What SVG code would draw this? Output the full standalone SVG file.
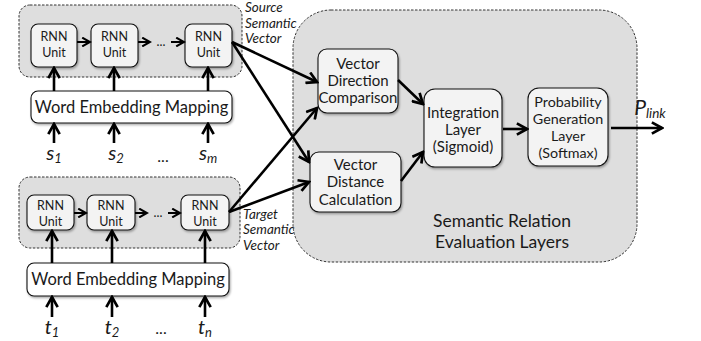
<svg xmlns="http://www.w3.org/2000/svg" width="701" height="341" viewBox="0 0 701 341">
<defs>
<marker id="ah" viewBox="0 0 10 10" refX="8.5" refY="5" markerWidth="5.2" markerHeight="5.2" orient="auto" markerUnits="strokeWidth">
<path d="M1,0.8 L8.5,5 L1,9.2" fill="none" stroke="#000" stroke-width="2"/>
</marker>
<filter id="sh" x="-10%" y="-10%" width="125%" height="130%">
<feDropShadow dx="1" dy="1.5" stdDeviation="1" flood-color="#000" flood-opacity="0.35"/>
</filter>
</defs>
<style>
.panel{fill:#dedede;stroke:#333;stroke-width:1;stroke-dasharray:2.5,1.5}
.box{fill:#f3f3f3;stroke:#111;stroke-width:1.1;filter:url(#sh)}
.wbox{fill:#fff;stroke:#111;stroke-width:1.1;filter:url(#sh)}
text{font-family:Lato,"Liberation Sans",sans-serif;fill:#1a1a1a;text-anchor:middle}
.rnn{font-size:12.5px}
.n{font-size:15px}
.p{font-size:14.3px}
.wem{font-size:16.5px}
.lab{font-size:13.5px;font-style:italic;text-anchor:start}
.var{font-size:20px;font-style:italic}
.sub{font-size:13px;font-style:italic}
.big{font-size:17.5px}
.dots{font-size:16px}
.c{fill:none;stroke:#000;stroke-width:2.6;marker-end:url(#ah)}
.cs{fill:none;stroke:#000;stroke-width:2;marker-end:url(#ah)}
</style>
<g id="source-panel">
<rect class="panel" x="19" y="5" width="223" height="72" rx="11"/>
</g>
<g id="target-panel">
<rect class="panel" x="19" y="177" width="221" height="71" rx="11"/>
</g>
<g id="eval-panel">
<rect class="panel" x="293" y="10" width="344" height="252" rx="38"/>
<text class="big" x="502" y="227">Semantic Relation</text>
<text class="big" x="502" y="248">Evaluation Layers</text>
</g>
<g id="src-rnn1"><rect class="box" x="31" y="24" width="46" height="43" rx="7"/><text class="rnn" x="54" y="41">RNN</text><text class="rnn" x="54" y="57">Unit</text></g>
<g id="src-rnn2"><rect class="box" x="91" y="24" width="47" height="43" rx="7"/><text class="rnn" x="114.5" y="41">RNN</text><text class="rnn" x="114.5" y="57">Unit</text></g>
<g id="src-rnn3"><rect class="box" x="185" y="24" width="47" height="43" rx="7"/><text class="rnn" x="208.5" y="41">RNN</text><text class="rnn" x="208.5" y="57">Unit</text></g>
<g id="src-wem"><rect class="wbox" x="31" y="91" width="201" height="32" rx="7"/><text class="wem" x="131.5" y="113">Word Embedding Mapping</text></g>
<g id="tgt-rnn1"><rect class="box" x="27" y="195" width="47" height="35" rx="7"/><text class="rnn" x="50.5" y="210">RNN</text><text class="rnn" x="50.5" y="226">Unit</text></g>
<g id="tgt-rnn2"><rect class="box" x="87" y="195" width="48" height="35" rx="7"/><text class="rnn" x="111" y="210">RNN</text><text class="rnn" x="111" y="226">Unit</text></g>
<g id="tgt-rnn3"><rect class="box" x="181" y="195" width="48" height="35" rx="7"/><text class="rnn" x="205" y="210">RNN</text><text class="rnn" x="205" y="226">Unit</text></g>
<g id="tgt-wem"><rect class="wbox" x="27" y="263" width="202" height="33" rx="7"/><text class="wem" x="128" y="285">Word Embedding Mapping</text></g>
<g id="vdc"><rect class="box" x="318" y="49" width="80" height="64" rx="9"/><text class="n" x="358" y="69">Vector</text><text class="n" x="358" y="86">Direction</text><text class="n" x="358" y="103">Comparison</text></g>
<g id="vdist"><rect class="box" x="310" y="152" width="91" height="60" rx="9"/><text class="n" x="355.5" y="170">Vector</text><text class="n" x="355.5" y="187">Distance</text><text class="n" x="355.5" y="205">Calculation</text></g>
<g id="integ"><rect class="box" x="424" y="89" width="78" height="78" rx="11"/><text class="n" x="463" y="118">Integration</text><text class="n" x="463" y="135">Layer</text><text class="n" x="463" y="152">(Sigmoid)</text></g>
<g id="prob"><rect class="box" x="528" y="88" width="80" height="78" rx="11"/><text class="p" x="568" y="107">Probability</text><text class="p" x="568" y="124">Generation</text><text class="p" x="568" y="141">Layer</text><text class="p" x="568" y="158">(Softmax)</text></g>
<g id="labels">
<text class="lab" x="245" y="12">Source</text>
<text class="lab" x="245" y="28">Semantic</text>
<text class="lab" x="245" y="43">Vector</text>
<text class="lab" x="243" y="219">Target</text>
<text class="lab" x="243" y="234">Semantic</text>
<text class="lab" x="243" y="250">Vector</text>
<text class="var" x="54" y="160">s<tspan class="sub" dy="3">1</tspan></text>
<text class="var" x="116" y="160">s<tspan class="sub" dy="3">2</tspan></text>
<text class="var" x="208" y="160">s<tspan class="sub" dy="3">m</tspan></text>
<text class="dots" x="163" y="162">...</text>
<text class="var" x="52" y="334">t<tspan class="sub" dy="3">1</tspan></text>
<text class="var" x="112" y="334">t<tspan class="sub" dy="3">2</tspan></text>
<text class="var" x="205" y="334">t<tspan class="sub" dy="3">n</tspan></text>
<text class="dots" x="161" y="334">...</text>
<text class="rnn" x="161" y="46">...</text>
<text class="rnn" x="158" y="217">...</text>
<text class="var" x="650" y="115" style="font-size:21px">P<tspan class="sub" dy="3" style="font-size:13.5px">link</tspan></text>
</g>
<g id="connectors">
<line class="cs" x1="77" y1="42" x2="90" y2="42"/>
<line class="cs" x1="138" y1="42" x2="150" y2="42"/>
<line class="cs" x1="171" y1="42" x2="184" y2="42"/>
<line class="cs" x1="74" y1="213" x2="86" y2="213"/>
<line class="cs" x1="135" y1="213" x2="147" y2="213"/>
<line class="cs" x1="168" y1="213" x2="180" y2="213"/>
<line class="c" x1="54" y1="91" x2="54" y2="68"/>
<line class="c" x1="114" y1="91" x2="114" y2="68"/>
<line class="c" x1="208" y1="91" x2="208" y2="68"/>
<line class="c" x1="54" y1="143" x2="54" y2="124"/>
<line class="c" x1="114" y1="143" x2="114" y2="124"/>
<line class="c" x1="208" y1="143" x2="208" y2="124"/>
<line class="c" x1="52" y1="263" x2="52" y2="231"/>
<line class="c" x1="112" y1="263" x2="112" y2="231"/>
<line class="c" x1="205" y1="263" x2="205" y2="231"/>
<line class="c" x1="52" y1="317" x2="52" y2="297"/>
<line class="c" x1="112" y1="317" x2="112" y2="297"/>
<line class="c" x1="205" y1="317" x2="205" y2="297"/>
<line class="c" x1="232" y1="42" x2="317" y2="82"/>
<line class="c" x1="232" y1="42" x2="309" y2="162"/>
<line class="c" x1="229" y1="212" x2="317" y2="108"/>
<line class="c" x1="229" y1="212" x2="309" y2="182"/>
<line class="c" x1="398" y1="80" x2="423" y2="104"/>
<line class="c" x1="401" y1="181" x2="423" y2="152"/>
<line class="c" x1="503" y1="129" x2="527" y2="129"/>
<line class="c" x1="611" y1="128" x2="662" y2="128"/>
</g>
</svg>
